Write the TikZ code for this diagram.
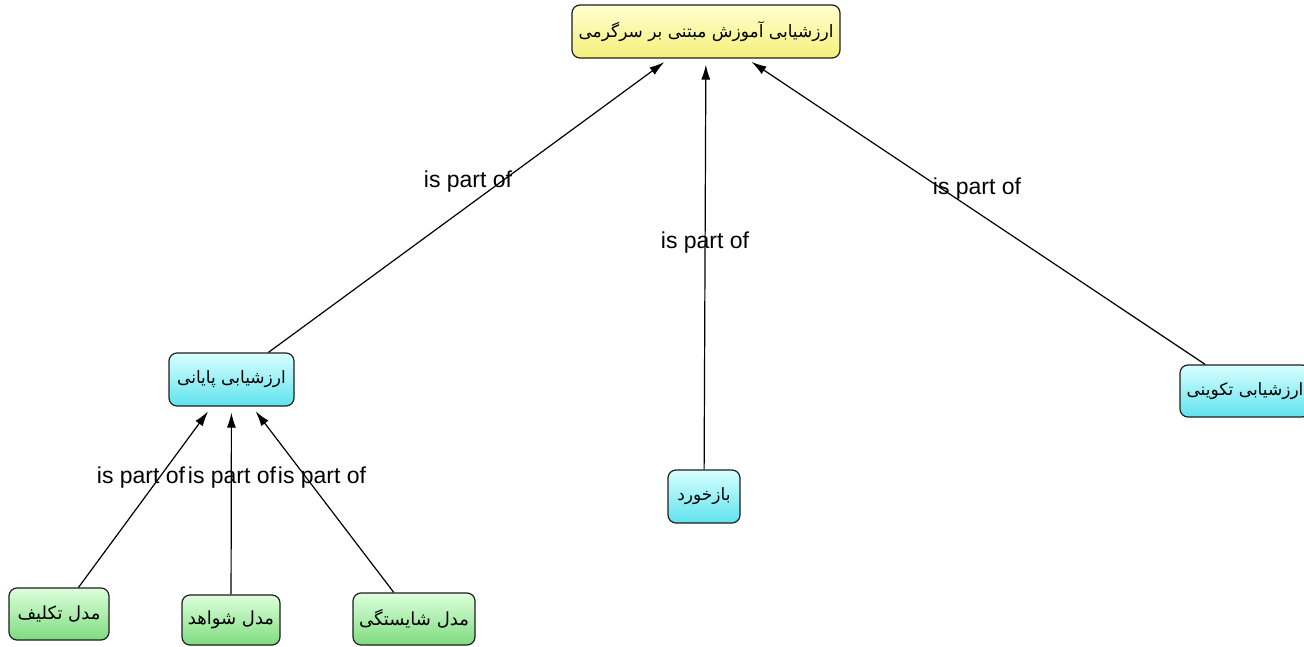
\documentclass[tikz,border=0pt]{standalone}
\usepackage{fontspec}
\setmainfont{Liberation Sans}
\newfontfamily\arabicfont[Script=Arabic]{DejaVu Sans}
\TeXXeTstate=1
\usetikzlibrary{arrows.meta}
\definecolor{ytop}{HTML}{FFFFD0}
\definecolor{ybot}{HTML}{F4F07A}
\definecolor{ctop}{HTML}{D9FFFF}
\definecolor{cbot}{HTML}{5FE3EE}
\definecolor{gtop}{HTML}{DDFFDD}
\definecolor{gbot}{HTML}{7EDC7E}
\definecolor{edge}{HTML}{1E1E1E}
\begin{document}
\begin{tikzpicture}[x=1pt,y=-1pt,
  concept/.style={draw=edge, line width=1.2pt, rounded corners=8pt, inner sep=0pt,
    font=\arabicfont\fontsize{17}{20}\selectfont, text=black},
  yel/.style={concept, top color=ytop, bottom color=ybot},
  cya/.style={concept, top color=ctop, bottom color=cbot},
  grn/.style={concept, top color=gtop, bottom color=gbot, font=\arabicfont\fontsize{18}{21}\selectfont},
  link/.style={draw=black, line width=1.2pt, -{Latex[length=15pt,width=9pt]}, shorten >=6pt},
  lbl/.style={font=\fontsize{23}{26}\selectfont, inner sep=0pt, anchor=base}
]
\useasboundingbox[fill=white] (0,0) rectangle (1304,647);

\node[yel, minimum width=268pt, minimum height=53pt] (top) at (706,31.5) {\beginR ارزشیابی آموزش مبتنی بر سرگرمی\endR};
\node[cya, minimum width=125pt, minimum height=53pt] (pay) at (231.5,379.5) {\beginR ارزشیابی پایانی\endR};
\node[cya, minimum width=130pt, minimum height=52pt] (tak) at (1245,391) {\beginR ارزشیابی تکوینی\endR};
\node[cya, minimum width=72pt, minimum height=53pt] (baz) at (704,496.5) {\beginR بازخورد\endR};
\node[grn, minimum width=100pt, minimum height=52pt] (m1) at (59,614) {\beginR مدل تکلیف\endR};
\node[grn, minimum width=98pt, minimum height=50pt] (m2) at (231,620) {\beginR مدل شواهد\endR};
\node[grn, minimum width=122pt, minimum height=52pt] (m3) at (414,619) {\beginR مدل شایستگی\endR};

\draw[link] (pay) -- (top);
\draw[link] (baz) -- (top);
\draw[link] (tak) -- (top);
\draw[link] (m1) -- (pay);
\draw[link] (m2) -- (pay);
\draw[link] (m3) -- (pay);

\node[lbl] (l1) at (468,188) {is part of};
\node[lbl] (l2) at (705,248) {is part of};
\node[lbl] (l3) at (977,195) {is part of};
\node[lbl] (l4) at (141,483) {is part of};
\node[lbl] (l5) at (232,483) {is part of};
\node[lbl] (l6) at (322,483) {is part of};
\end{tikzpicture}
\end{document}
